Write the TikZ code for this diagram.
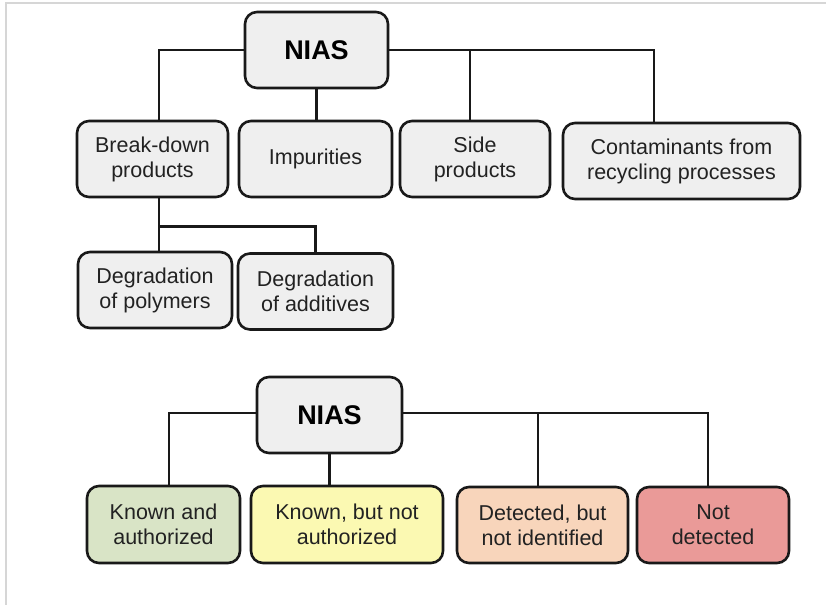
\documentclass[tikz,border=0pt]{standalone}
\usepackage{fontspec}
\setmainfont{Liberation Sans}
\definecolor{boxgray}{HTML}{EFEFEF}
\definecolor{cgreen}{HTML}{D9E4C6}
\definecolor{cyellow}{HTML}{FBF9B2}
\definecolor{cpeach}{HTML}{F8D5BB}
\definecolor{cred}{HTML}{EA9A98}
\definecolor{txt}{HTML}{222222}
\definecolor{frame}{HTML}{D6D6D6}
\tikzset{
  box/.style={draw=black!90, line width=2.6pt, rounded corners=12pt, fill=boxgray,
    align=center, inner sep=0pt, minimum height=76pt, text=txt,
    font=\fontsize{21.5}{25}\selectfont},
  rootbox/.style={box, font=\fontsize{27}{30}\selectfont\bfseries, text=black},
  link/.style={draw=black!90, line width=2.6pt}
}
\begin{document}
\begin{tikzpicture}[x=1pt,y=-1pt]
\useasboundingbox (0,0) rectangle (826,605);
\fill[white] (0,0) rectangle (826,605);
\draw[frame, line width=2pt] (826,3) -- (6,3) -- (6,605);

% top tree
\node[rootbox, minimum width=143pt] (nias1) at (316.5,50) {NIAS};
\node[box, minimum width=151pt] (bd) at (152.5,159) {Break-down\\products};
\node[box, minimum width=153pt] (imp) at (315.5,159) {Impurities};
\node[box, minimum width=150pt] (side) at (475,159) {Side\\products};
\node[box, minimum width=237pt] (cont) at (681.5,161) {Contaminants from\\recycling processes};
\node[box, minimum width=154pt] (dp) at (155,290) {Degradation\\of polymers};
\node[box, minimum width=155pt] (da) at (315.5,291.5) {Degradation\\of additives};

\draw[link] (nias1.west) -| ([xshift=6.5pt]bd.north);
\draw[link] (nias1.south) -- (nias1.south |- imp.north);
\draw[link] (nias1.east) -| ([xshift=-27.5pt]cont.north);
\draw[link] (nias1.east -| side.north) ++(-5pt,0) coordinate (js) -- (js |- side.north);
\coordinate (j1) at ([xshift=6.5pt,yshift=-28pt]bd.south);
\draw[link] ([xshift=6.5pt]bd.south) -- ([xshift=6.5pt]bd.south |- dp.north);
\draw[link] (j1) -| (da.north);

% bottom tree
\node[rootbox, minimum width=145pt] (nias2) at (329.5,415) {NIAS};
\node[box, fill=cgreen, minimum width=153pt, minimum height=77pt] (ka) at (163.5,524.5) {Known and\\authorized};
\node[box, fill=cyellow, minimum width=192pt, minimum height=77pt] (kn) at (347,524.5) {Known, but not\\authorized};
\node[box, fill=cpeach, minimum width=171pt] (dn) at (542.5,525) {Detected, but\\not identified};
\node[box, fill=cred, minimum width=152pt] (nd) at (713,525) {Not\\detected};

\draw[link] ([yshift=2pt]nias2.west) -| ([xshift=5.5pt]ka.north);
\draw[link] (nias2.south) -- (nias2.south |- kn.north);
\draw[link] ([yshift=2pt]nias2.east) -| ([xshift=-5pt]nd.north);
\draw[link] ([yshift=2pt]nias2.east -| dn.north) ++(-4.5pt,0) coordinate (jd) -- (jd |- dn.north);
\end{tikzpicture}
\end{document}
